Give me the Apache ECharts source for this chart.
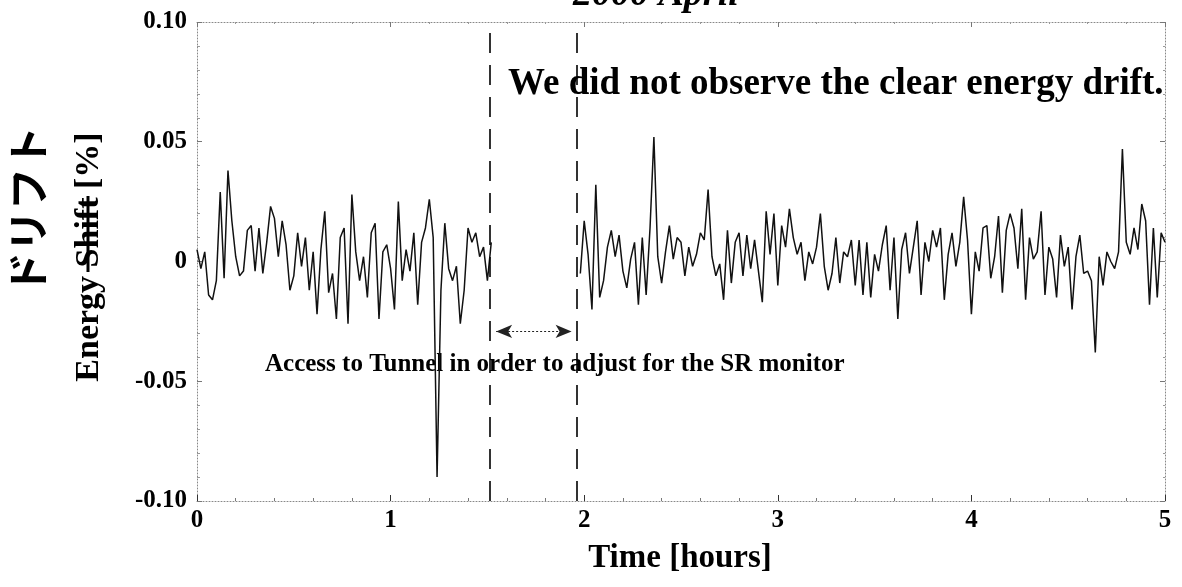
<!DOCTYPE html>
<html>
<head>
<meta charset="utf-8">
<script src="https://cdn.jsdelivr.net/npm/echarts@6/dist/echarts.min.js"></script>
<style>
  html, body { margin: 0; padding: 0; background: #fff; }
  #chart { width: 1182px; height: 587px; }
</style>
</head>
<body>
<div id="chart"></div>
<script>
// 能量偏移 (単位 0.001 %), 0.02 h 間隔
const beforeStart = 0
const afterStart = 1.98
const sampleStep = 0.02
const driftBefore = [
  5, -3, 4, -14, -16, -8, 29, -7, 38, 17, 2, -6, -4, 13, 15, -4, 14, -5, 8, 23,
  18, 2, 17, 7, -12, -6, 12, -2, 10, -12, 4, -22, 5, 21, -13, -5, -24, 10, 14, -26,
  28, 4, -8, 2, -15, 12, 16, -24, 4, 7, -3, -20, 25, -8, 5, -4, 12, -18, 8, 14,
  26, 10, -90, -12, 16, -3, -8, -2, -26, -12, 14, 8, 12, 2, 6, -8, 8
]
const driftAfter = [
  -5, 17, 3, -20, 32, -15, -8, 6, 13, 2, 11, -4, -11, 1, 8, -18, 10, -14, 14, 52,
  2, -9, 4, 15, 1, 10, 8, -6, 6, -2, 3, 12, 9, 30, 2, -6, -1, -16, 13, -9,
  8, 12, -6, 11, -3, 9, -4, -17, 21, 3, 20, -10, 15, 6, 22, 10, 3, 8, -8, 4,
  -1, 6, 20, -2, -12, -5, 10, -9, 4, 2, 9, -10, 9, -14, 8, -15, 3, -4, 7, 15,
  -12, 10, -24, 5, 12, -5, 6, 17, -14, 8, 0, 13, 6, 14, -16, 3, 12, -2, 8, 27,
  9, -22, 4, -4, 14, 15, -7, 2, 19, -13, 13, 20, 14, -3, 22, -16, 10, 1, 4, 21,
  -14, 6, 1, -15, 11, -2, 6, -20, 2, 11, -5, -4, -8, -38, 2, -10, 4, 0, -3, 4,
  47, 8, 3, 14, 5, 24, 17, -18, 14, -15, 12, 8
]
// 入坑期間の境界 (時間)
const accessLines = [1.515, 1.958]
const yTickLabels = { '-0.1': '-0.10', '-0.05': '-0.05', '0': '0', '0.05': '0.05', '0.1': '0.10' }

const serif = 'Liberation Serif'

let toPoints = (start, arr) => arr.map((v, i) => [+(start + i * sampleStep).toFixed(2), v / 1000])

let chart = echarts.init(document.getElementById('chart'))

let lineStyle = { color: '#111', width: 1.5 }

let dottedAxis = {
  show: true,
  onZero: false,
  lineStyle: { color: '#888', type: [1, 2], width: 1 }
}

chart.setOption({
  animation: false,
  backgroundColor: '#fff',
  grid: { left: 197, right: 17, top: 22, bottom: 86 },
  xAxis: [{
    type: 'value', min: 0, max: 5, interval: 1,
    axisLine: dottedAxis,
    axisTick: { inside: true, length: 6, lineStyle: { color: '#333' } },
    minorTick: { show: true, splitNumber: 5, length: 3, lineStyle: { color: '#777' } },
    splitLine: { show: false },
    axisLabel: { color: '#000', fontFamily: serif, fontWeight: 'bold', fontSize: 25, margin: 7 }
  }, {
    type: 'value', min: 0, max: 5, interval: 1, position: 'top',
    axisLine: dottedAxis,
    axisTick: { inside: true, length: 5, lineStyle: { color: '#777' } },
    minorTick: { show: true, splitNumber: 5, length: 2, lineStyle: { color: '#999' } },
    splitLine: { show: false },
    axisLabel: { show: false }
  }],
  yAxis: [{
    type: 'value', min: -0.1, max: 0.1, interval: 0.05,
    axisLine: dottedAxis,
    axisTick: { inside: true, length: 5, lineStyle: { color: '#777' } },
    minorTick: { show: true, splitNumber: 5, length: 3, lineStyle: { color: '#999' } },
    splitLine: { show: false },
    axisLabel: {
      color: '#000', fontFamily: serif, fontWeight: 'bold', fontSize: 25, margin: 10,
      formatter: v => yTickLabels[String(+v.toFixed(2))] ?? v
    }
  }, {
    type: 'value', min: -0.1, max: 0.1, interval: 0.05, position: 'right',
    axisLine: dottedAxis,
    axisTick: { inside: true, length: 5, lineStyle: { color: '#777' } },
    minorTick: { show: true, splitNumber: 5, length: 2, lineStyle: { color: '#999' } },
    splitLine: { show: false },
    axisLabel: { show: false }
  }],
  series: [{
    type: 'line',
    data: toPoints(beforeStart, driftBefore),
    showSymbol: false,
    lineStyle: lineStyle,
    markLine: {
      silent: true,
      symbol: 'none',
      label: { show: false },
      lineStyle: { color: '#000', type: [20, 12], width: 1.6 },
      data: accessLines.map(x => ({ xAxis: x }))
    }
  }, {
    type: 'line',
    data: toPoints(afterStart, driftAfter),
    showSymbol: false,
    lineStyle: lineStyle,
    markLine: {
      silent: true,
      symbol: ['arrow', 'arrow'],
      symbolSize: [10, 16],
      label: { show: false },
      lineStyle: { color: '#222', type: [2, 2], width: 1 },
      data: [[{ coord: [1.545, -0.0292] }, { coord: [1.935, -0.0292] }]]
    }
  }],
  graphic: [
    {
      type: 'text', left: 573, top: -24,
      style: { text: '2000 April', fontFamily: serif, fontWeight: 'bold', fontStyle: 'italic', fontSize: 38, fill: '#000' }
    },
    {
      type: 'text', left: 508, top: 66,
      style: { text: 'We did not observe the clear energy drift.', fontFamily: serif, fontWeight: 'bold', fontSize: 37, fill: '#000' }
    },
    {
      type: 'text', left: 265, top: 352,
      style: { text: 'Access to Tunnel in order to adjust for the SR monitor', fontFamily: serif, fontWeight: 'bold', fontSize: 25, fill: '#000' }
    },
    {
      type: 'text', x: 680, y: 558,
      style: { text: 'Time [hours]', fontFamily: serif, fontWeight: 'bold', fontSize: 33, fill: '#000', align: 'center', verticalAlign: 'middle' }
    },
    {
      type: 'text', x: 89, y: 257, rotation: Math.PI / 2,
      style: { text: 'Energy Shift [%]', fontFamily: serif, fontWeight: 'bold', fontSize: 34, fill: '#000', align: 'center', verticalAlign: 'middle' }
    },
    {
      type: 'line', silent: true,
      shape: { x1: 88, y1: 196, x2: 88, y2: 272 },
      style: { stroke: '#000', lineWidth: 3 }
    },
    {
      type: 'text', x: 28, y: 210, rotation: Math.PI / 2,
      style: { text: 'ドリフト', fontFamily: 'Noto Sans CJK JP', fontWeight: 'bold', fontSize: 42, fill: '#000', align: 'center', verticalAlign: 'middle' }
    }
  ]
})
</script>
</body>
</html>
